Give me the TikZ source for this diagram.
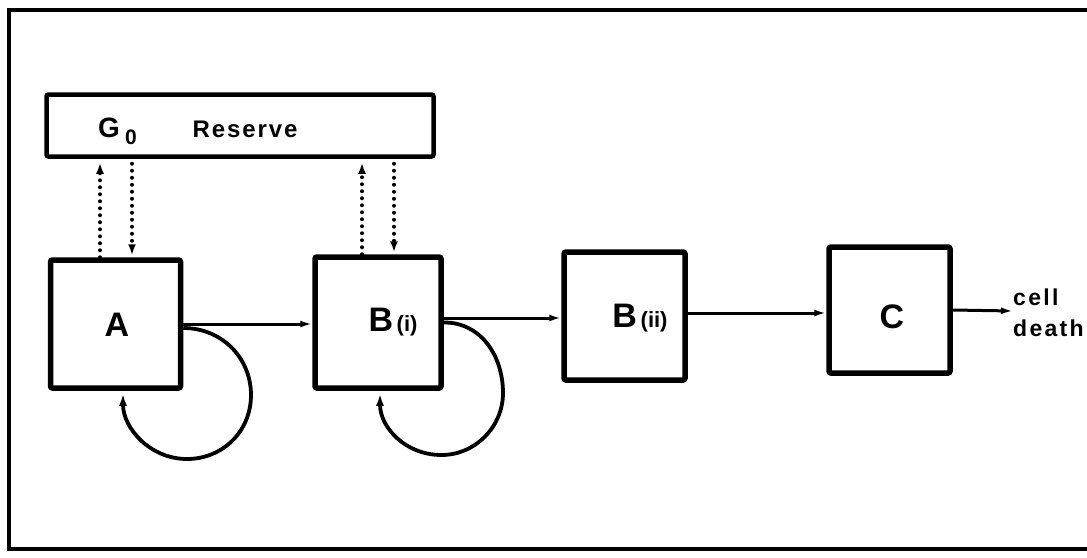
\documentclass[tikz,border=0pt]{standalone}
\usepackage{fontspec}
\setmainfont{Liberation Sans}
\usetikzlibrary{arrows.meta}
\begin{document}
\begin{tikzpicture}[x=1pt,y=-1pt,
  stage/.style={draw, line width=5.5pt, rounded corners=2pt, inner sep=0pt},
  pool/.style={draw, line width=4.5pt, rounded corners=2pt, inner sep=0pt},
  flow/.style={line width=3pt, -{Latex[length=12pt,width=7pt]}},
  cycle/.style={line width=3.8pt, -{Latex[length=12pt,width=8pt]}},
  swap/.style={line width=4pt, line cap=round, dash pattern=on 0pt off 7pt, -{Latex[length=11pt,width=8pt]}},
  big/.style={font=\bfseries\fontsize{34}{36}\selectfont, inner sep=0pt},
  mid/.style={font=\bfseries\fontsize{24}{26}\selectfont\addfontfeatures{LetterSpace=8}, inner sep=0pt},
  small/.style={font=\bfseries\fontsize{23}{31}\selectfont\addfontfeatures{LetterSpace=10}, inner sep=0pt, align=left}]
\useasboundingbox (0,0) rectangle (1087,557);

% open frame
\draw[line width=3.5pt] (1087,10) -- (9,10) -- (9,549) -- (1087,549);

% G0 reserve compartment
\node[pool, minimum width=387pt, minimum height=62pt] (R) at (240,125.5) {};
\node[big, font=\bfseries\fontsize{28}{30}\selectfont] (Rg) at (109,128) {G};
\node[mid, font=\bfseries\fontsize{21}{23}\selectfont] (Rz) at (131,137) {0};
\node[mid] (Rt) at (245,129) {Reserve};

% proliferating and maturing compartments
\node[stage, minimum width=130pt, minimum height=128pt] (A) at (115.5,324) {};
\node[stage, minimum width=126pt, minimum height=131pt] (Bi) at (378,322.5) {};
\node[stage, minimum width=121pt, minimum height=128pt] (Bii) at (624.5,316) {};
\node[stage, minimum width=121pt, minimum height=126pt] (C) at (889.5,310) {};

\node[big] (Al) at (117,325) {A};
\node[big] (Bil) at (393,322) {B\fontsize{22}{24}\selectfont\,(i)};
\node[big] (Biil) at (640,318) {B\fontsize{22}{24}\selectfont\,(ii)};
\node[big] (Cl) at (892,317) {C};

% exit
\coordinate (D) at (1013,311);
\node[small, anchor=west] (Dt) at (1013,313) {cell\\death};

% exchange with the reserve
\draw[swap, shorten >=4pt] ([xshift=-15.5pt]A.north) -- ([xshift=-15.5pt]A.north |- R.south);
\draw[swap, shorten <=5pt, shorten >=2pt] ([xshift=16.5pt]A.north |- R.south) -- ([xshift=16.5pt]A.north);
\draw[swap, shorten >=4pt] ([xshift=-16pt]Bi.north) -- ([xshift=-16pt]Bi.north |- R.south);
\draw[swap, shorten <=5pt, shorten >=2pt] ([xshift=16pt]Bi.north |- R.south) -- ([xshift=16pt]Bi.north);

% transit between compartments
\draw[flow] (A.east) -- (A.east -| Bi.west);
\draw[flow] ([yshift=4.5pt]Bi.east) -- ([yshift=4.5pt]Bi.east -| Bii.west);
\draw[flow] ([yshift=3pt]Bii.east) -- ([yshift=3pt]Bii.east -| C.west);
\draw[flow] (C.east) -- (D);

% self-renewal loops
\draw[cycle] ([yshift=-4pt]A.east) .. controls (222,328) and (251,358) .. (251,395)
  .. controls (251,432) and (222,459) .. (187,459)
  .. controls (150,459) and (123,428) .. ([xshift=7.5pt,yshift=-3pt]A.south);
\draw[cycle] ([yshift=0pt]Bi.east) .. controls (480,322) and (503,355) .. (503,393)
  .. controls (503,427) and (475,455) .. (441.5,455)
  .. controls (405,455) and (380,427) .. ([xshift=2pt,yshift=-3pt]Bi.south);
\end{tikzpicture}
\end{document}
